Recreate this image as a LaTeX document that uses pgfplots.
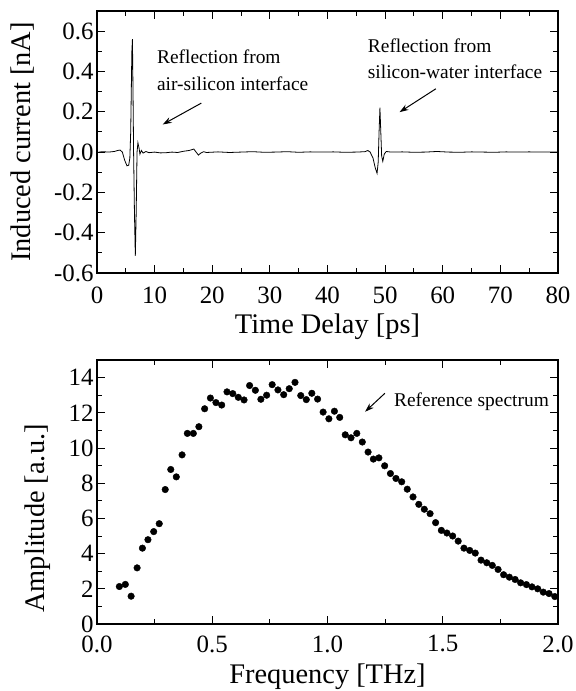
\documentclass[border=0pt]{standalone}
\usepackage{pgfplots}
\pgfplotsset{compat=1.18}
\usepackage{fontspec}
\setmainfont{Liberation Serif}
\usetikzlibrary{arrows.meta}

\pgfplotstableread{
f A
0.097 2.13
0.123 2.25
0.148 1.58
0.174 3.19
0.197 4.31
0.221 4.79
0.246 5.25
0.270 5.70
0.296 7.64
0.320 8.78
0.344 8.36
0.369 9.61
0.392 10.83
0.418 10.83
0.442 11.21
0.467 12.23
0.492 12.84
0.516 12.58
0.541 12.44
0.564 13.19
0.589 13.09
0.613 12.88
0.638 12.73
0.662 13.55
0.687 13.28
0.711 12.77
0.736 13.00
0.760 13.60
0.785 13.30
0.810 13.03
0.834 13.37
0.859 13.73
0.884 12.98
0.908 12.75
0.932 13.11
0.957 12.78
0.981 12.04
1.006 11.66
1.030 12.09
1.053 11.74
1.077 10.75
1.102 10.58
1.127 10.83
1.151 10.34
1.176 9.77
1.199 9.37
1.223 9.44
1.248 8.99
1.273 8.55
1.297 8.27
1.322 8.08
1.346 7.66
1.371 7.22
1.396 6.80
1.420 6.52
1.445 6.27
1.469 5.76
1.494 5.32
1.518 5.17
1.543 5.00
1.567 4.71
1.592 4.31
1.617 4.18
1.641 4.03
1.666 3.63
1.691 3.48
1.715 3.33
1.740 3.10
1.764 2.80
1.789 2.66
1.814 2.53
1.838 2.34
1.863 2.24
1.887 2.11
1.912 2.00
1.936 1.81
1.961 1.73
1.986 1.56
}\spectrum

\pgfplotsset{
  common/.style={
    scale only axis, width=461bp,
    axis line style={line width=1.6bp},
    tick style={line width=1bp, black},
    tick align=inside,
    major tick length=8bp, minor tick length=5bp,
    tick label style={font=\fontsize{25}{25}\selectfont},
    /pgf/number format/assume math mode=true,
    label style={font=\fontsize{28.5}{28.5}\selectfont},
  }
}

\begin{document}
\begin{tikzpicture}
\path[use as bounding box] (0,0) rectangle (576bp,-691bp);
\begin{axis}[common,
  at={(97bp,-273bp)}, anchor=south west, height=262bp,
  xmin=0, xmax=80, ymin=-0.6, ymax=0.7,
  xtick={0,10,20,30,40,50,60,70,80},
  minor xtick={5,15,25,35,45,55,65,75},
  ytick={-0.6,-0.4,-0.2,0,0.2,0.4,0.6},
  minor ytick={-0.5,-0.3,-0.1,0.1,0.3,0.5},
  xticklabel style={yshift=-10bp},
  yticklabel style={/pgf/number format/.cd, fixed, fixed zerofill, precision=1},
  xlabel={Time Delay [ps]},
  ylabel={Induced current [nA]},
  xlabel style={at={(axis description cs:0.5,-0.229)}, anchor=base},
  ylabel style={at={(axis description cs:-0.1605,0.5)}, anchor=center},
]
\addplot[black, line width=0.8bp] coordinates {
(0.3,0) (1,0.002) (2,0) (3,0.003) (3.6,0.008) (4.0,0.01) (4.4,0.0) (4.8,-0.04) (5.2,-0.068) (5.5,-0.065) (5.7,-0.03) (5.85,0.1) (5.95,0.3) (6.05,0.5) (6.15,0.56) (6.25,0.3) (6.35,0.0) (6.5,-0.3) (6.65,-0.515) (6.8,-0.3) (6.95,0.0) (7.1,0.046) (7.3,0.02) (7.45,-0.01) (7.7,0.008) (8,-0.005) (8.5,0.003) (9,-0.003) (10,0.0) (11,-0.004) (12,-0.003) (13,0.0) (14,-0.002) (15,0.004) (16,0.008) (16.8,0.015) (17.2,0.0) (17.6,-0.015) (18,-0.005) (18.5,0.002) (19,-0.002) (21,0.001) (23,-0.002) (25,0.0) (27,0.002) (29,-0.001) (31,0.0) (33,0.002) (35,-0.001) (37,0.001) (39,0.0) (41,0.001) (43,-0.001) (45,0.0) (46.5,0.002) (47,0.008) (47.4,0.0) (47.9,-0.03) (48.3,-0.08) (48.6,-0.105) (48.8,-0.05) (48.95,0.1) (49.1,0.22) (49.25,0.1) (49.4,-0.02) (49.6,-0.046) (49.85,-0.01) (50.2,0.003) (51,0.0) (53,0.001) (55,-0.001) (57,0.0) (59,0.003) (61,0.0) (63,-0.001) (65,0.001) (67,0.0) (69,-0.001) (71,0.001) (73,0.0) (75,0.001) (77,0.0) (79.9,0.0)
};
\node[anchor=base west, font=\fontsize{19.5}{19.5}\selectfont, inner sep=0] at (axis cs:10.39,0.439) {Reflection from};
\node[anchor=base west, font=\fontsize{19.5}{19.5}\selectfont, inner sep=0] at (axis cs:10.39,0.305) {air-silicon interface};
\draw[-{Stealth[length=9bp,width=6bp]}, line width=1bp] (axis cs:18.1,0.243) -- (axis cs:11.4,0.137);
\node[anchor=base west, font=\fontsize{19.5}{19.5}\selectfont, inner sep=0] at (axis cs:46.98,0.495) {Reflection from};
\node[anchor=base west, font=\fontsize{19.5}{19.5}\selectfont, inner sep=0] at (axis cs:46.98,0.363) {silicon-water interface};
\draw[-{Stealth[length=9bp,width=6bp]}, line width=1bp] (axis cs:58.8,0.314) -- (axis cs:52.5,0.198);
\end{axis}

\begin{axis}[common,
  at={(97bp,-624bp)}, anchor=south west, height=264bp,
  xmin=0, xmax=2, ymin=0, ymax=15,
  xtick={0,0.5,1,1.5,2},
  minor xtick={0.25,0.75,1.25,1.75},
  ytick={0,2,4,6,8,10,12,14},
  minor ytick={1,3,5,7,9,11,13},
  xticklabel style={yshift=-8bp, /pgf/number format/.cd, fixed, fixed zerofill, precision=1},
  xlabel={Frequency [THz]},
  ylabel={Amplitude [a.u.]},
  xlabel style={at={(axis description cs:0.5,-0.2235)}, anchor=base},
  ylabel style={at={(axis description cs:-0.128,0.40)}, anchor=center},
]
\addplot[only marks, mark=*, mark size=3.3bp, black] table[x=f, y=A] {\spectrum};
\node[anchor=base west, font=\fontsize{19.5}{19.5}\selectfont, inner sep=0] at (axis cs:1.288,12.35) {Reference spectrum};
\draw[-{Stealth[length=9bp,width=6bp]}, line width=1bp] (axis cs:1.249,13.11) -- (axis cs:1.163,12.06);
\end{axis}
\end{tikzpicture}
\end{document}
